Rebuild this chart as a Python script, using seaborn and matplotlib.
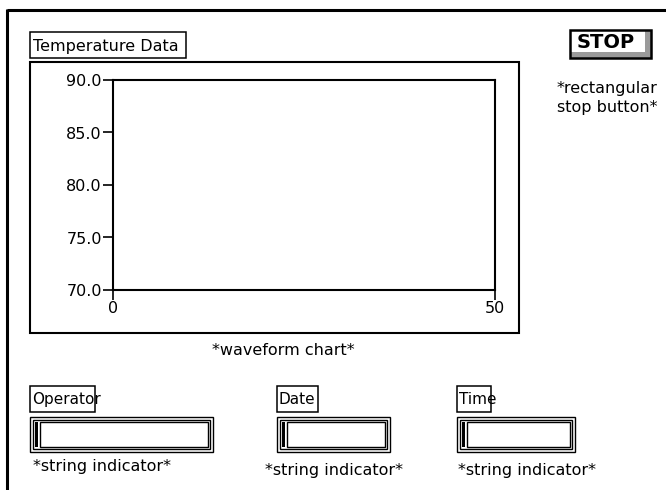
import matplotlib
matplotlib.use("Agg")
import matplotlib.pyplot as plt
import seaborn as sns
from matplotlib.patches import Rectangle

# date pentru panoul frontal (grafic gol, fara puncte)
chart_title = "Temperature Data"
chart_caption = "*waveform chart*"
x_range = [0, 50]
y_ticks = [70.0, 75.0, 80.0, 85.0, 90.0]
y_tick_labels = ["70.0", "75.0", "80.0", "85.0", "90.0"]
temp_x = []
temp_y = []

indicator_names = ["Operator", "Date", "Time"]
indicator_caption = "*string indicator*"
stop_text = "STOP"
stop_caption = ["*rectangular", "stop button*"]

W, H = 666, 490
sns.set_style("white")
plt.rcParams["font.family"] = ["DejaVu Sans"]
plt.rcParams["text.color"] = "black"
plt.rcParams["xtick.color"] = "black"
plt.rcParams["ytick.color"] = "black"
FS = 11.5

fig = plt.figure(figsize=(W / 100, H / 100), dpi=100)
fig.patch.set_linewidth(0)

# axa de fundal in pixeli
bg = fig.add_axes([0, 0, 1, 1])
bg.set_xlim(0, W)
bg.set_ylim(H, 0)
bg.axis("off")


def box(x0, y0, x1, y1, lw=1.1, fc="none", z=2):
    bg.add_patch(Rectangle((x0, y0), x1 - x0, y1 - y0, fill=fc != "none",
                           facecolor=fc, edgecolor="black", lw=lw, zorder=z))


# marginea panoului (doar sus si stanga, restul e taiat)
bg.plot([7, W], [10, 10], color="black", lw=2.2, solid_capstyle="butt")
bg.plot([7, 7], [9, H], color="black", lw=2.2, solid_capstyle="butt")

# eticheta si cadrul graficului
box(30, 32, 186, 58)
bg.text(33, 46, chart_title, fontsize=FS, va="center", ha="left")
box(30, 62, 519, 333, lw=1.5)
bg.text(283, 350, chart_caption, fontsize=FS, va="center", ha="center")

# butonul STOP
bg.add_patch(Rectangle((645, 31), 6, 27, facecolor="#9a9a9a", lw=0, zorder=2))
bg.add_patch(Rectangle((571, 52), 80, 6, facecolor="#9a9a9a", lw=0, zorder=2))
box(570, 30, 651, 58, lw=1.8, z=3)
bg.text(606, 43, stop_text, fontsize=14, fontweight="bold", va="center", ha="center",
        family=["Liberation Sans Narrow", "DejaVu Sans"])
bg.text(557, 88, stop_caption[0], fontsize=FS, va="center", ha="left")
bg.text(557, 107, stop_caption[1], fontsize=FS, va="center", ha="left")

# indicatoarele de tip string
ind_pos = [(30, 213, 95, 33, 466), (277, 390, 318, 265, 470), (457, 575, 491, 458, 470)]
for name, (x0, x1, lx1, cx, cy) in zip(indicator_names, ind_pos):
    box(x0, 386, lx1, 412)
    bg.text(x0 + 2, 399, name, fontsize=FS - 0.5, va="center", ha="left")
    box(x0, 417, x1, 452, lw=1.0)
    box(x0 + 3, 420, x1 - 3, 449, lw=1.0)
    bg.add_patch(Rectangle((x0 + 5, 422), 3, 25, facecolor="black", lw=0, zorder=3))
    box(x0 + 10, 422, x1 - 5, 447, lw=1.0)
    bg.text(cx, cy, indicator_caption, fontsize=FS, va="center", ha="left")

# graficul propriu-zis (waveform chart)
ax = fig.add_axes([113 / W, (H - 290) / H, (495 - 113) / W, (290 - 80) / H])
sns.lineplot(x=temp_x, y=temp_y, ax=ax, color="black")
ax.set_xlim(x_range)
ax.set_ylim(y_ticks[0], y_ticks[-1])
ax.set_xticks(x_range)
ax.set_xticklabels([str(v) for v in x_range], fontsize=FS)
ax.set_yticks(y_ticks)
ax.set_yticklabels(y_tick_labels, fontsize=FS)
ax.tick_params(axis="both", direction="out", length=7, width=1.2, color="black",
               labelcolor="black", bottom=True, left=True, pad=1)
for s in ax.spines.values():
    s.set_color("black")
    s.set_linewidth(1.5)
ax.set_xlabel("")
ax.set_ylabel("")
ax.set_facecolor("white")

fig.savefig("out.png", dpi=100)
